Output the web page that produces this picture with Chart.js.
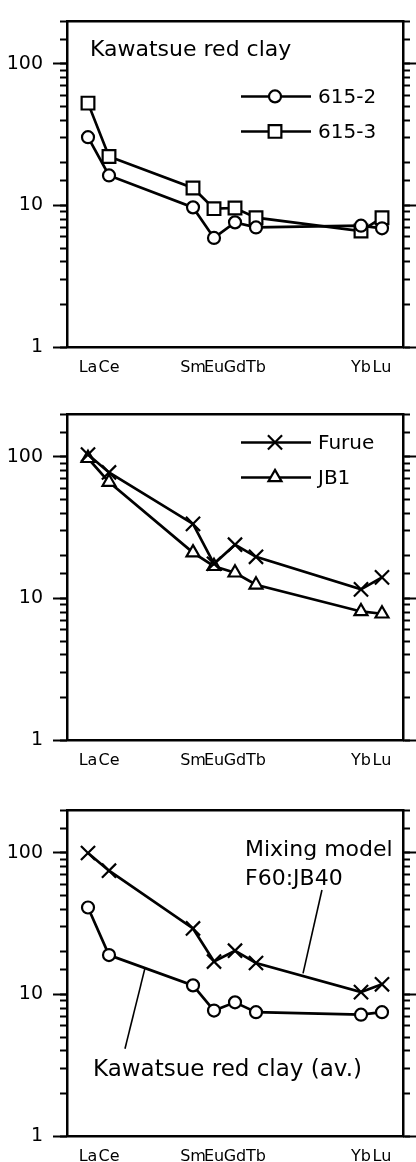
<!DOCTYPE html>
<html>
<head>
<meta charset="utf-8">
<script src="https://cdn.jsdelivr.net/npm/chart.js@4.4.1/dist/chart.umd.min.js"></script>
<style>
    html, body { margin: 0; padding: 0; background: #fff; overflow: hidden; }
    body { width: 416px; height: 1162px; position: relative; }
    .panel { position: absolute; left: 0; width: 416px; height: 395px; }
</style>
</head>
<body>
<div class="panel" style="top:0px"><canvas id="chartClay"></canvas></div>
<div class="panel" style="top:393px"><canvas id="chartSource"></canvas></div>
<div class="panel" style="top:789px"><canvas id="chartMixing"></canvas></div>

<script>
// REE pattern, chondrite normalized
const elements = ['La', 'Ce', 'Sm', 'Eu', 'Gd', 'Tb', 'Yb', 'Lu'];
const atomicNumbers = [57, 58, 62, 63, 64, 65, 70, 71];
const yTickLabels = [1, 10, 100];

// panel 1 - Kawatsue red clay
const clay6152 = [30.4, 16.3, 9.7, 5.9, 7.6, 7.0, 7.2, 6.9];
const clay6153 = [52.9, 22.2, 13.3, 9.5, 9.6, 8.2, 6.6, 8.2];
// panel 2 - sources
const furue = [104, 77.8, 33.7, 17.6, 24.0, 19.7, 11.6, 14.1];
const jb1 = [98, 66.5, 21.1, 16.9, 15.2, 12.5, 8.1, 7.8];
// panel 3 - mixing model vs clay average
const mixingF60JB40 = [100, 75, 29.3, 17.1, 20.4, 16.7, 10.4, 11.8];
const clayAverage = [41.2, 19.0, 11.6, 7.7, 8.8, 7.5, 7.2, 7.5];

Chart.defaults.font.family = '"DejaVu Sans", sans-serif';
Chart.defaults.color = '#000';

const isDecade = v => yTickLabels.some(t => Math.abs(Math.log10(v) - Math.log10(t)) < 1e-6);
const toPoints = vals => atomicNumbers.map((z, i) => ({ x: z, y: vals[i] }));

const series = (label, vals, pointStyle, radius) => ({
    label,
    data: toPoints(vals),
    xAxisID: 'x',
    yAxisID: 'y',
    borderColor: '#000',
    borderWidth: 2.7,
    tension: 0,
    pointStyle,
    pointRadius: radius,
    pointHoverRadius: radius,
    pointBorderWidth: 2.2,
    pointBorderColor: '#000',
    pointBackgroundColor: '#fff',
    clip: false
});

function buildScales() {
    const sideAxis = (position, weight, len, majorOnly, width, border) => ({
        type: 'logarithmic', position, weight, min: 1, max: 200,
        ticks: { display: false },
        grid: {
            drawOnChartArea: false, tickLength: len, tickWidth: 2,
            tickColor: c => (!majorOnly || (c.tick && isDecade(c.tick.value))) ? '#000' : 'rgba(0,0,0,0)'
        },
        border: { display: border, color: '#000', width: 2.5 },
        afterFit: s => { s.width = width; }
    });
    const y = sideAxis('left', 1, 14, true, 67, true);
    y.ticks = {
        display: true, autoSkip: false, padding: 10, color: '#000', font: { size: 19 },
        callback: v => isDecade(v) ? String(Math.round(v)) : ''
    };
    return {
        x: {
            type: 'linear', position: 'bottom', min: 56, max: 72,
            afterBuildTicks: s => { s.ticks = atomicNumbers.map(v => ({ value: v })); },
            ticks: {
                autoSkip: false, maxRotation: 0, padding: 11, color: '#000', font: { size: 16 },
                callback: v => elements[atomicNumbers.indexOf(v)] || ''
            },
            grid: { drawOnChartArea: false, drawTicks: false },
            border: { color: '#000', width: 2.5 },
            afterFit: s => { s.height = 48; }
        },
        xTop: {
            type: 'linear', position: 'top', min: 56, max: 72,
            ticks: { display: false },
            grid: { drawOnChartArea: false, drawTicks: false },
            border: { color: '#000', width: 2.5 },
            afterFit: s => { s.height = 0; }
        },
        y,
        yMinor: sideAxis('left', 0, 7, false, 0, false),
        yR: sideAxis('right', 1, 14, true, 13, true),
        yRMinor: sideAxis('right', 0, 7, false, 0, false)
    };
}

// legend rows, text notes and leader lines drawn on top of the plot
function overlayPlugin(cfg) {
    return {
        id: 'overlay',
        afterDatasetsDraw(chart) {
            const { ctx, chartArea: a, scales: { x, y } } = chart;
            ctx.save();
            ctx.strokeStyle = '#000';
            ctx.fillStyle = '#000';
            ctx.lineWidth = 1.6;
            (cfg.leaders || []).forEach(l => {
                ctx.beginPath();
                ctx.moveTo(x.getPixelForValue(l.from[0]), y.getPixelForValue(l.from[1]));
                ctx.lineTo(x.getPixelForValue(l.to[0]), y.getPixelForValue(l.to[1]));
                ctx.stroke();
            });
            ctx.textAlign = 'left';
            ctx.textBaseline = 'middle';
            (cfg.notes || []).forEach(n => {
                ctx.font = n.size + 'px "DejaVu Sans"';
                ctx.fillText(n.text, a.left + n.dx, a.top + n.dy);
            });
            if (cfg.legendTop != null) {
                chart.data.datasets.forEach((ds, i) => {
                    const ly = a.top + cfg.legendTop + i * 35;
                    ctx.lineWidth = 2.5;
                    ctx.strokeStyle = '#000';
                    ctx.beginPath();
                    ctx.moveTo(a.left + 174, ly);
                    ctx.lineTo(a.left + 244, ly);
                    ctx.stroke();
                    ctx.lineWidth = 2.2;
                    ctx.fillStyle = '#fff';
                    Chart.helpers.drawPoint(ctx, { pointStyle: ds.pointStyle, radius: ds.pointRadius, borderWidth: 2, rotation: 0 }, a.left + 208, ly);
                    ctx.fillStyle = '#000';
                    ctx.font = '20px "DejaVu Sans"';
                    ctx.fillText(ds.label, a.left + 251, ly + 1);
                });
            }
            ctx.restore();
        }
    };
}

function makeChart(id, datasets, cfg) {
    return new Chart(document.getElementById(id), {
        type: 'line',
        data: { datasets },
        options: {
            responsive: true,
            maintainAspectRatio: false,
            animation: false,
            layout: { padding: { top: 9, left: 0, right: 0, bottom: 0 } },
            plugins: { legend: { display: false }, tooltip: { enabled: false } },
            scales: buildScales()
        },
        plugins: [overlayPlugin(cfg)]
    });
}

makeChart('chartClay', [
    series('615-2', clay6152, 'circle', 6),
    series('615-3', clay6153, 'rect', 9)
], {
    legendTop: 75,
    notes: [{ text: 'Kawatsue red clay', dx: 23, dy: 29, size: 22 }]
});

makeChart('chartSource', [
    series('Furue', furue, 'crossRot', 10),
    series('JB1', jb1, 'triangle', 7.5)
], { legendTop: 28 });

makeChart('chartMixing', [
    series('Mixing model F60:JB40', mixingF60JB40, 'crossRot', 10),
    series('Kawatsue red clay (av.)', clayAverage, 'circle', 6)
], {
    notes: [
        { text: 'Mixing model', dx: 178, dy: 40, size: 22 },
        { text: 'F60:JB40', dx: 178, dy: 69, size: 22 },
        { text: 'Kawatsue red clay (av.)', dx: 26, dy: 260, size: 23 }
    ],
    leaders: [
        { from: [68.14, 54.8], to: [67.24, 14.1] },
        { from: [59.71, 15.3], to: [58.76, 4.14] }
    ]
});
</script>
</body>
</html>
